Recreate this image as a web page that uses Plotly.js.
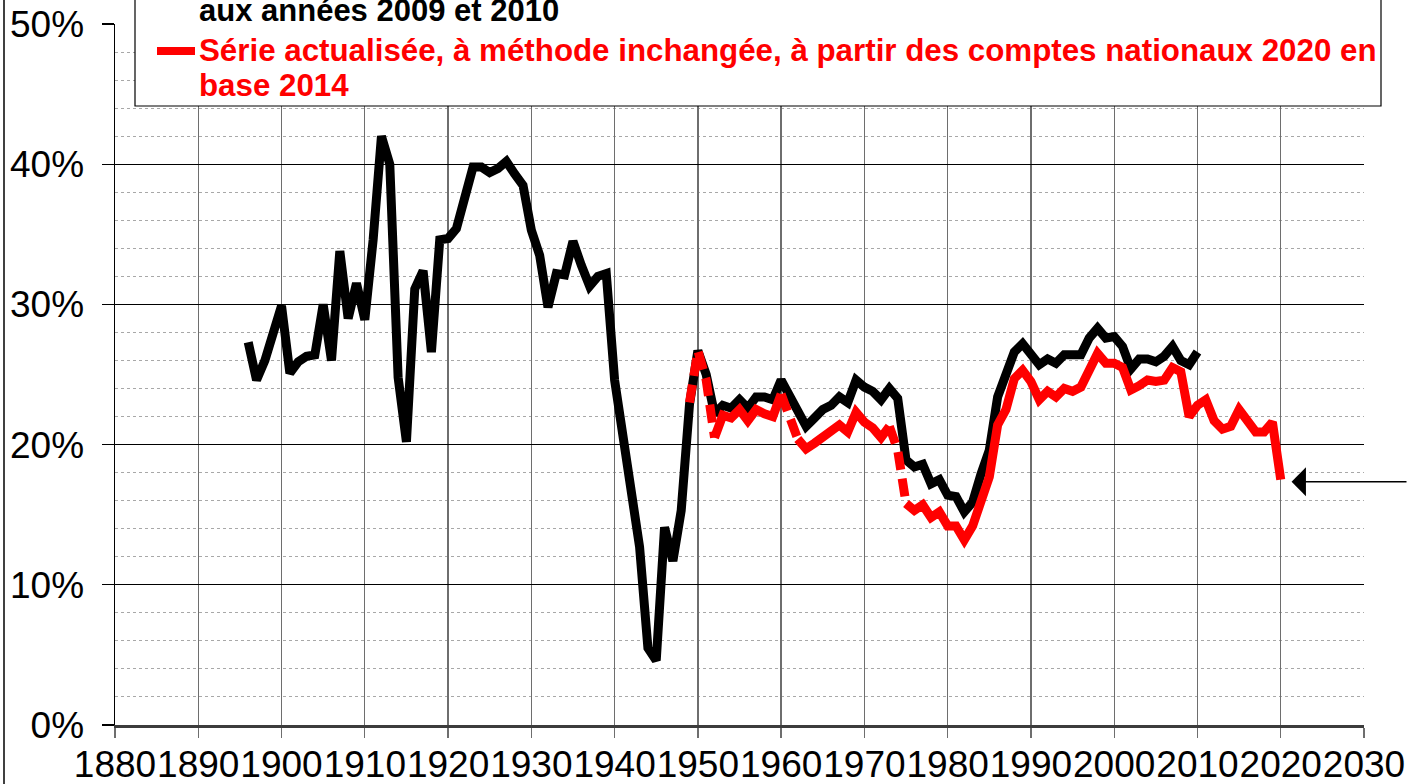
<!DOCTYPE html>
<html>
<head>
<meta charset="utf-8">
<script src="https://cdn.plot.ly/plotly-3.0.1.min.js"></script>
<style>html,body{margin:0;padding:0;background:#fff;}#chart{width:1408px;height:784px;}</style>
</head>
<body>
<div id="chart"></div>
<script>
// ---- Data (values in %) ----
const blackYears = [];
for (let y = 1896; y <= 2010; y++) blackYears.push(y);
const blackValues = [
  27.3, 24.6, 26.0, 27.9, 29.9, 25.1, 25.9, 26.3, 26.4, 30.0,
  26.0, 33.8, 29.0, 31.5, 28.9, 34.6, 42.0, 40.0, 24.8, 20.2,
  31.1, 32.4, 26.6, 34.6, 34.7, 35.4, 37.4, 39.8, 39.8, 39.4,
  39.7, 40.2, 39.3, 38.5, 35.3, 33.5, 29.8, 32.2, 32.1, 34.5,
  32.8, 31.3, 32.0, 32.2, 24.6, 20.5, 17.2, 12.7, 5.5, 4.6,
  14.1, 11.7, 15.3, 22.9, 26.7, 25.0, 22.2, 22.8, 22.6, 23.2,
  22.6, 23.4, 23.4, 23.2, 24.6, 23.5, 22.2, 21.3, 21.9, 22.5,
  22.8, 23.4, 23.0, 24.6, 24.1, 23.8, 23.2, 24.0, 23.3, 18.9,
  18.4, 18.6, 17.2, 17.5, 16.4, 16.3, 15.2, 15.9, 17.9, 19.6,
  23.4, 24.8, 26.6, 27.2, 26.5, 25.7, 26.1, 25.8, 26.4, 26.4,
  26.4, 27.6, 28.3, 27.6, 27.7, 27.0, 25.4, 26.1, 26.1, 25.9,
  26.3, 27.0, 26.0, 25.7, 26.6
];
const redYears = [];
for (let y = 1949; y <= 2020; y++) redYears.push(y);
const redValues = [
  23.0, 26.7, 24.6, 20.5, 22.1, 21.9, 22.5, 21.7, 22.5, 22.2,
  22.0, 23.6, 21.9, 20.4, 19.7, 20.1, 20.5, 20.9, 21.4, 20.9,
  22.3, 21.6, 21.2, 20.5, 21.3, 19.6, 15.8, 15.3, 15.7, 14.8,
  15.2, 14.2, 14.2, 13.2, 14.2, 15.9, 17.7, 21.4, 22.5, 24.7,
  25.3, 24.5, 23.2, 23.8, 23.4, 24.0, 23.8, 24.1, 25.3, 26.5,
  25.8, 25.8, 25.5, 23.9, 24.2, 24.6, 24.5, 24.6, 25.5, 25.2,
  22.0, 22.8, 23.2, 21.7, 21.1, 21.3, 22.5, 21.7, 20.9, 20.9,
  21.6, 17.5
];
// dashed stretches of the red series (break years)
const redDashed = [[1949, 1952], [1960, 1962], [1973, 1975]];
const yTickVals = [0, 10, 20, 30, 40, 50];
const yTickText = ['0%', '10%', '20%', '30%', '40%', '50%'];
const legendBlackLine = 'aux années 2009 et 2010';
const legendRedLine1 = 'Série actualisée, à méthode inchangée, à partir des comptes nationaux 2020 en';
const legendRedLine2 = 'base 2014';

// ---- build red segments ----
function slice(y0, y1) {
  const xs = [], ys = [];
  redYears.forEach((yr, i) => { if (yr >= y0 && yr <= y1) { xs.push(yr); ys.push(redValues[i]); } });
  return {xs, ys};
}
const traces = [];
traces.push({x: blackYears, y: blackValues, type: 'scatter', mode: 'lines',
  line: {color: '#000000', width: 9}, hoverinfo: 'skip', showlegend: false});
const solidRanges = [];
let start = redYears[0];
redDashed.forEach(d => { if (d[0] > start) solidRanges.push([start, d[0]]); start = d[1]; });
solidRanges.push([start, redYears[redYears.length - 1]]);
solidRanges.forEach(r => {
  const s = slice(r[0], r[1]);
  traces.push({x: s.xs, y: s.ys, type: 'scatter', mode: 'lines',
    line: {color: '#ff0000', width: 9}, hoverinfo: 'skip', showlegend: false});
});
redDashed.forEach(r => {
  const s = slice(r[0], r[1]);
  traces.push({x: s.xs, y: s.ys, type: 'scatter', mode: 'lines',
    line: {color: '#ff0000', width: 9, dash: '18px,9px'}, hoverinfo: 'skip', showlegend: false});
});

const W = 1408, H = 784;
const L = 115, R = 44, T = 24, B = 59;
const pw = W - L - R, ph = H - T - B;
const px = v => (v - L) / pw;
const py = v => (H - B - v) / ph;
const FONT = 'Liberation Sans, Arial, sans-serif';

const layout = {
  width: W, height: H,
  margin: {l: L, r: R, t: T, b: B, pad: 0},
  paper_bgcolor: '#ffffff', plot_bgcolor: '#ffffff',
  showlegend: false,
  xaxis: {
    range: [1880, 2030], tick0: 1880, dtick: 10, fixedrange: true, tickangle: 0,
    showgrid: true, gridcolor: '#6e6e6e', gridwidth: 1.3,
    ticks: 'outside', ticklen: 10, tickcolor: '#6e6e6e', tickwidth: 1.3,
    ticklabelstandoff: -5,
    showline: true, linecolor: '#3c3c3c', linewidth: 2.5, zeroline: false,
    tickfont: {family: FONT, size: 37, color: '#000'}
  },
  yaxis: {
    range: [0, 50], tickvals: yTickVals, ticktext: yTickText, fixedrange: true,
    showgrid: true, gridcolor: '#000000', gridwidth: 1.2,
    ticks: 'outside', ticklen: 12, tickcolor: '#000', tickwidth: 1.3,
    ticklabelstandoff: 10,
    showline: true, linecolor: '#000', linewidth: 1.5, zeroline: false,
    tickfont: {family: FONT, size: 37, color: '#000'},
    minor: {dtick: 2, tick0: 0, showgrid: true, gridcolor: '#a8a8a8', griddash: 'dot', gridwidth: 1, ticks: ''}
  },
  shapes: [
    {type: 'line', xref: 'paper', yref: 'paper', x0: px(4), x1: px(4), y0: py(790), y1: py(-10),
      line: {color: '#000', width: 1.5}},
    {type: 'rect', xref: 'paper', yref: 'paper', x0: px(135), x1: px(1381), y0: py(106), y1: py(-20),
      fillcolor: '#ffffff', line: {color: '#000', width: 1.2}, layer: 'above'},
    {type: 'line', xref: 'paper', yref: 'paper', x0: px(157), x1: px(195), y0: py(51), y1: py(51),
      line: {color: '#ff0000', width: 8}, layer: 'above'}
  ],
  annotations: [
    {xref: 'paper', yref: 'paper', x: px(197), y: py(11), xanchor: 'left', yanchor: 'middle',
      text: '<b>' + legendBlackLine + '</b>', showarrow: false,
      font: {family: FONT, size: 31, color: '#000'}},
    {xref: 'paper', yref: 'paper', x: px(197), y: py(50.5), xanchor: 'left', yanchor: 'middle',
      text: '<b>' + legendRedLine1 + '</b>', showarrow: false,
      font: {family: FONT, size: 31.3, color: '#ff0000'}},
    {xref: 'paper', yref: 'paper', x: px(197), y: py(85.5), xanchor: 'left', yanchor: 'middle',
      text: '<b>' + legendRedLine2 + '</b>', showarrow: false,
      font: {family: FONT, size: 31.3, color: '#ff0000'}},
    {xref: 'x', yref: 'y', x: 2021.3, y: 17.35, ax: 118, ay: 0, axref: 'pixel', ayref: 'pixel',
      text: '', showarrow: true, arrowhead: 1, arrowsize: 3, arrowwidth: 1.6, arrowcolor: '#000', standoff: 0}
  ]
};

Plotly.newPlot('chart', traces, layout, {displayModeBar: false, staticPlot: true});
</script>
</body>
</html>
